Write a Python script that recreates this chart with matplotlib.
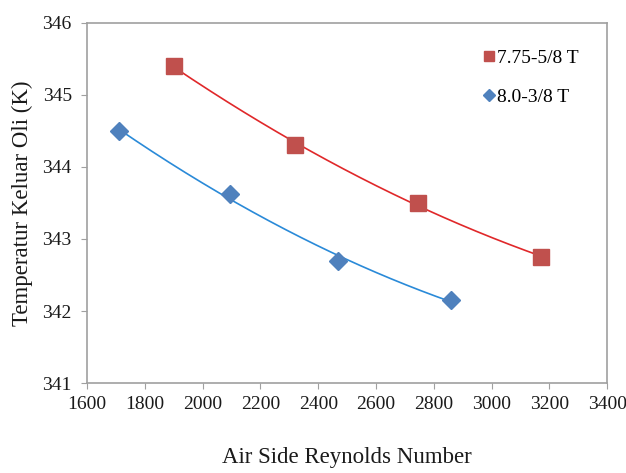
import numpy as np
import matplotlib
matplotlib.use("Agg")
import matplotlib.pyplot as plt

plt.rcParams['font.family'] = ['Liberation Serif', 'DejaVu Serif']

x_red = [1900, 2320, 2745, 3170]
y_red = [345.40, 344.30, 343.50, 342.75]
x_blue = [1710, 2095, 2470, 2860]
y_blue = [344.50, 343.62, 342.70, 342.15]
label_red = "7.75-5/8 T"
label_blue = "8.0-3/8 T"
xticks = [1600, 1800, 2000, 2200, 2400, 2600, 2800, 3000, 3200, 3400]
yticks = [341, 342, 343, 344, 345, 346]

fig = plt.figure(figsize=(6.26, 4.73), dpi=100)
ax = fig.add_axes([0.139, 0.19, 0.831, 0.762])

for xs, ys, mcol, lcol, mk, ms, lab in [
    (x_red, y_red, '#C0504D', '#E0282A', 's', 12, label_red),
    (x_blue, y_blue, '#4F81BD', '#2A8AD8', 'D', 9.5, label_blue),
]:
    c = np.polyfit(xs, ys, 2)
    xx = np.linspace(min(xs), max(xs), 200)
    ax.plot(xx, np.polyval(c, xx), color=lcol, lw=1.2, zorder=2)
    ax.plot(xs, ys, linestyle='none', marker=mk, ms=ms, color=mcol,
            mec=mcol, zorder=3, label=lab)

ax.set_xlim(1600, 3400)
ax.set_ylim(341, 346)
ax.set_xticks(xticks)
ax.set_yticks(yticks)
for s in ax.spines.values():
    s.set_color('#A0A0A0')
    s.set_linewidth(1.2)
ax.tick_params(direction='out', length=4, color='#A0A0A0', labelsize=14,
               labelcolor='#1a1a1a')
ax.tick_params(axis='x', pad=5.5)
ax.tick_params(axis='y', pad=7)
ax.set_xlabel("Air Side Reynolds Number", fontsize=16.5, labelpad=24, color='#1a1a1a')
ax.set_ylabel("Temperatur Keluar Oli (K)", fontsize=16.5, labelpad=7, color='#1a1a1a')

leg = ax.legend(loc='upper left', frameon=False, fontsize=14, markerscale=0.6,
                handlelength=0.6, handletextpad=0.1, labelspacing=1.1,
                borderpad=0, borderaxespad=0,
                bbox_to_anchor=(0.772, 0.895), bbox_transform=fig.transFigure)

fig.savefig("out.png", dpi=100)
